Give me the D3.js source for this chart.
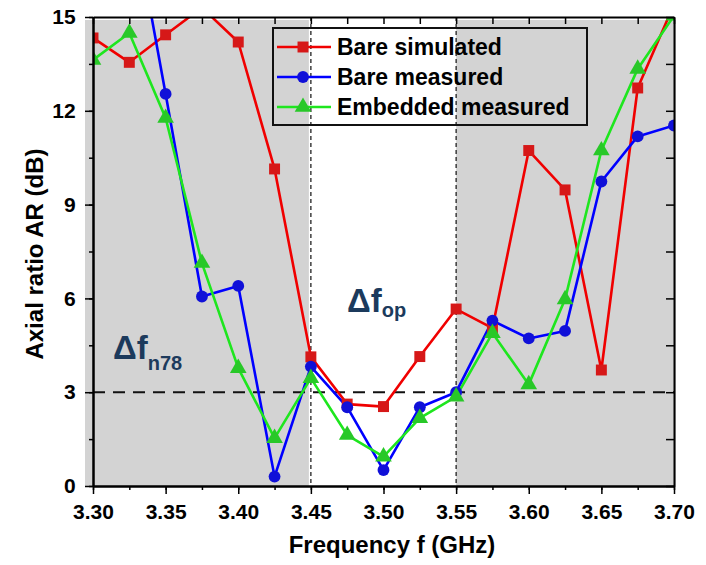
<!DOCTYPE html>
<html>
<head>
<meta charset="utf-8">
<script src="https://cdn.jsdelivr.net/npm/d3@7/dist/d3.min.js"></script>
<style>
  body { margin: 0; background: #fff; }
  text { font-family: "Liberation Sans", Arial, sans-serif; font-weight: bold; }
</style>
</head>
<body>
<svg id="chart" width="706" height="565"></svg>
<script>
// frequency points (GHz)
let freqs = [3.300, 3.325, 3.350, 3.375, 3.400, 3.425, 3.450, 3.475, 3.500,
             3.525, 3.550, 3.575, 3.600, 3.625, 3.650, 3.675, 3.700];
// axial ratio (dB)
let bareSimulated = [14.33, 13.55, 14.43, 15.3, 14.2, 10.14, 4.13, 2.62, 2.54,
                     4.14, 5.66, 5.05, 10.73, 9.47, 3.71, 12.73, 15.4];
let bareMeasured = [21.0, 18.9, 12.54, 6.06, 6.4, 0.30, 3.82, 2.52, 0.51,
                    2.52, 3.0, 5.29, 4.72, 4.96, 9.74, 11.18, 11.53];
let embeddedMeasured = [13.63, 14.49, 11.77, 7.13, 3.77, 1.53, 3.45, 1.63, 0.94,
                        2.17, 2.86, 4.89, 3.25, 5.97, 10.73, 13.34, 15.04];

let xTicks = [3.30, 3.35, 3.40, 3.45, 3.50, 3.55, 3.60, 3.65, 3.70];
let yTicks = [0, 3, 6, 9, 12, 15];
let seriesNames = ["Bare simulated", "Bare measured", "Embedded measured"];
let bandOp = [3.45, 3.55];   // operating band, white
let arLimit = 3;

let svg = d3.select("#chart");
let pLeft = 93, pRight = 674, pTop = 17, pBottom = 486;

let x = d3.scaleLinear().domain([3.30, 3.70]).range([pLeft, pRight]);
let y = d3.scaleLinear().domain([0, 15]).range([pBottom, pTop]);

// shaded n78 band outside the operating band
svg.append("rect")
    .attr("x", pLeft - 8).attr("y", pTop + 3)
    .attr("width", x(bandOp[0]) - pLeft + 6).attr("height", pBottom - pTop - 3)
    .attr("fill", "#d3d3d3");
svg.append("rect")
    .attr("x", x(bandOp[1])).attr("y", pTop + 3)
    .attr("width", pRight + 2 - x(bandOp[1])).attr("height", pBottom - pTop - 3)
    .attr("fill", "#d3d3d3");

// vertical dashed band edges
svg.selectAll("line.vband")
    .data(bandOp)
    .enter().append("line")
    .attr("class", "vband")
    .attr("x1", d => x(d)).attr("x2", d => x(d))
    .attr("y1", pTop).attr("y2", pBottom)
    .attr("stroke", "#222").attr("stroke-width", 1.3)
    .attr("stroke-dasharray", "4,3");

// 3 dB limit
svg.append("line")
    .attr("x1", pLeft).attr("x2", pRight)
    .attr("y1", y(arLimit)).attr("y2", y(arLimit))
    .attr("stroke", "#111").attr("stroke-width", 2)
    .attr("stroke-dasharray", "12,8");

svg.append("clipPath").attr("id", "plotclip")
    .append("rect")
    .attr("x", pLeft).attr("y", pTop)
    .attr("width", pRight - pLeft).attr("height", pBottom - pTop);

let series = [
  { name: seriesNames[0], values: bareSimulated, line: "#f00000", mark: "#d61818", shape: d3.symbolSquare, size: 120 },
  { name: seriesNames[1], values: bareMeasured, line: "#0000ff", mark: "#1010d8", shape: d3.symbolCircle, size: 110 },
  { name: seriesNames[2], values: embeddedMeasured, line: "#1ee61e", mark: "#28c828", shape: d3.symbolTriangle, size: 120 }
];

let valueline = d3.line()
    .x((d, i) => x(freqs[i]))
    .y(d => y(d));

let plot = svg.append("g").attr("clip-path", "url(#plotclip)");

series.forEach(function(s) {
  plot.append("path")
      .attr("d", valueline(s.values))
      .attr("fill", "none")
      .attr("stroke", s.line)
      .attr("stroke-width", 2.6)
      .attr("stroke-linejoin", "round");
});

series.forEach(function(s) {
  plot.selectAll(null)
      .data(s.values)
      .enter().append("path")
      .attr("d", d3.symbol().type(s.shape).size(s.size))
      .attr("transform", (d, i) => "translate(" + x(freqs[i]) + "," + y(d) + ")")
      .attr("fill", s.mark);
});

// axes
let xMinor = d3.range(0, 17).map(i => 3.30 + i * 0.025);
let yMinor = d3.range(0, 11).map(i => i * 1.5);

let xAxis = svg.append("g")
    .attr("transform", "translate(0," + pBottom + ")")
    .call(d3.axisBottom(x).tickValues(xTicks).tickFormat(d3.format(".2f")).tickSize(8).tickSizeOuter(0));
xAxis.selectAll("text").style("font-size", "21px").attr("dy", "1.05em").attr("fill", "#000");

svg.append("g")
    .attr("transform", "translate(0," + pBottom + ")")
    .call(d3.axisBottom(x).tickValues(xMinor).tickFormat("").tickSize(4).tickSizeOuter(0));

let yAxis = svg.append("g")
    .attr("transform", "translate(" + pLeft + ",0)")
    .call(d3.axisLeft(y).tickValues(yTicks).tickSize(8).tickSizeOuter(0));
yAxis.selectAll("text").style("font-size", "21px").attr("dx", "-0.3em").attr("fill", "#000");

svg.append("g")
    .attr("transform", "translate(" + pLeft + ",0)")
    .call(d3.axisLeft(y).tickValues(yMinor).tickFormat("").tickSize(4).tickSizeOuter(0));

// top and right frame, inward ticks
svg.append("g")
    .attr("transform", "translate(0," + pTop + ")")
    .call(d3.axisBottom(x).tickValues(xMinor).tickFormat("").tickSize(7).tickSizeOuter(0));
svg.append("g")
    .attr("transform", "translate(" + pRight + ",0)")
    .call(d3.axisLeft(y).tickValues(yMinor).tickFormat("").tickSize(8).tickSizeOuter(0));

svg.selectAll(".domain").attr("stroke", "#000").attr("stroke-width", 2);
svg.selectAll(".tick line").attr("stroke", "#000").attr("stroke-width", 1.5);

// legend
let legend = svg.append("g");
legend.append("rect")
    .attr("x", 273).attr("y", 28)
    .attr("width", 314).attr("height", 97)
    .attr("fill", "none").attr("stroke", "#111").attr("stroke-width", 2);

series.forEach(function(s, i) {
  let ly = 47 + i * 30;
  legend.append("line")
      .attr("x1", 277).attr("x2", 331)
      .attr("y1", ly).attr("y2", ly)
      .attr("stroke", s.line).attr("stroke-width", 2.6);
  legend.append("path")
      .attr("d", d3.symbol().type(s.shape).size(s.size))
      .attr("transform", "translate(303," + ly + ")")
      .attr("fill", s.mark);
  legend.append("text")
      .attr("x", 337).attr("y", ly + 8)
      .style("font-size", "23px")
      .text(s.name);
});

// axis titles
svg.append("text")
    .attr("x", 392).attr("y", 553)
    .style("text-anchor", "middle")
    .style("font-size", "24px")
    .text("Frequency f (GHz)");

svg.append("text")
    .attr("transform", "translate(43,254) rotate(-90)")
    .style("text-anchor", "middle")
    .style("font-size", "24px")
    .text("Axial ratio AR (dB)");

// band labels
let n78 = svg.append("text")
    .attr("x", 113).attr("y", 359)
    .attr("fill", "#1c3a5c")
    .style("font-size", "33px");
n78.append("tspan").text("\u0394f");
n78.append("tspan").attr("dy", 11).style("font-size", "20px").text("n78");

let op = svg.append("text")
    .attr("x", 347).attr("y", 312)
    .attr("fill", "#1c3a5c")
    .style("font-size", "33px");
op.append("tspan").text("\u0394f");
op.append("tspan").attr("dy", 5).style("font-size", "20px").text("op");
</script>
</body>
</html>
